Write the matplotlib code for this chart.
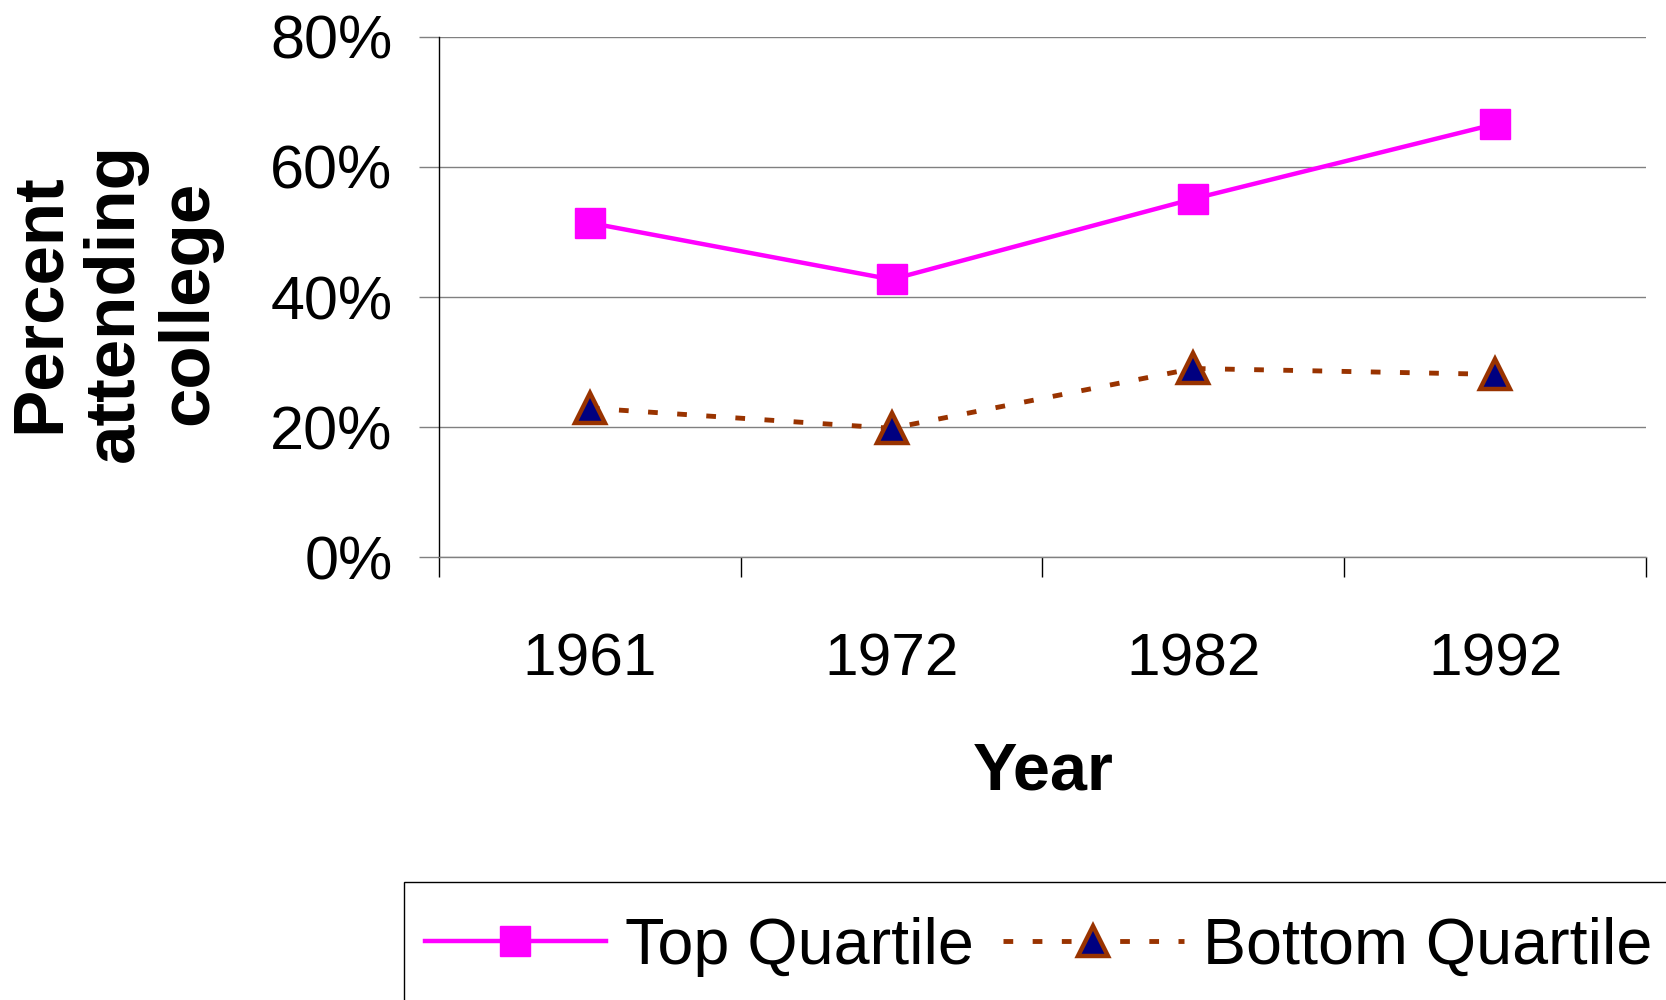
"""Percent attending college by test-score quartile, 1961-1992."""
import matplotlib.pyplot as plt
from matplotlib.patches import Rectangle
from matplotlib.ticker import FixedLocator, FuncFormatter

plt.rcParams["font.family"] = ["Liberation Sans", "DejaVu Sans"]

YEARS = ["1961", "1972", "1982", "1992"]
TOP_QUARTILE = [51.4, 42.7, 55.1, 66.6]      # percent
BOTTOM_QUARTILE = [22.9, 19.8, 29.0, 28.1]   # percent
Y_TICKS = [0, 20, 40, 60, 80]

fig = plt.figure(figsize=(16.66, 10), dpi=100)
ax = fig.add_axes([0.2635, 0.443, 0.7245, 0.520])

x = list(range(len(YEARS)))
ax.plot(x, TOP_QUARTILE, color="#FF00FF", lw=3.2, marker="s", markersize=21,
        markeredgecolor="#FF00FF", label="Top Quartile", zorder=3)
ax.plot(x, BOTTOM_QUARTILE, color="#993300", lw=3.5, linestyle=(0, (2, 4)),
        marker="^", markersize=21, markerfacecolor="#000080",
        markeredgecolor="#993300", markeredgewidth=3.2,
        label="Bottom Quartile", zorder=3)

ax.set_xlim(-0.5, len(YEARS) - 0.5)
ax.set_ylim(0, 80)

# category boundaries get the tick marks, centres get the labels
ax.xaxis.set_major_locator(FixedLocator([i - 0.5 for i in range(len(YEARS) + 1)]))
ax.xaxis.set_major_formatter(FuncFormatter(lambda v, p: ""))
ax.xaxis.set_minor_locator(FixedLocator(x))
ax.set_xticklabels(YEARS, minor=True)
ax.tick_params(axis="x", which="major", direction="out", length=14.4,
               width=1, color="black")
ax.tick_params(axis="x", which="minor", length=0, pad=54, labelsize=43.5)

ax.set_yticks(Y_TICKS)
ax.yaxis.set_major_formatter(FuncFormatter(lambda v, p: f"{v:.0f}%"))
ax.tick_params(axis="y", direction="out", length=14.4, width=1,
               color="#808080", pad=19, labelsize=44)

ax.grid(True, axis="y", color="#808080", lw=1.0)
ax.set_axisbelow(True)
for side in ("top", "right"):
    ax.spines[side].set_visible(False)
ax.spines["bottom"].set_color("#808080")
ax.spines["bottom"].set_linewidth(1)
ax.spines["left"].set_color("black")
ax.spines["left"].set_linewidth(1)

fig.text(0.626, 0.227, "Year", ha="center", va="center",
         fontsize=48, fontweight="bold")
fig.text(0.069, 0.697, "Percent\nattending\ncollege", ha="center",
         va="center", rotation=90, multialignment="center",
         fontsize=51, fontweight="bold", linespacing=1.17)

# legend box runs off the bottom/right edge of the canvas
fig.add_artist(Rectangle((0.2425, -0.05), 0.8, 0.168, transform=fig.transFigure,
                         facecolor="white", edgecolor="black", lw=1))
fig.legend(loc="center left", bbox_to_anchor=(0.2551, 0.053), ncol=2,
           fontsize=46.5, frameon=False, borderpad=0, borderaxespad=0,
           handlelength=2.8, handletextpad=0.3, columnspacing=0.45)

fig.savefig("out.png", dpi=100)
